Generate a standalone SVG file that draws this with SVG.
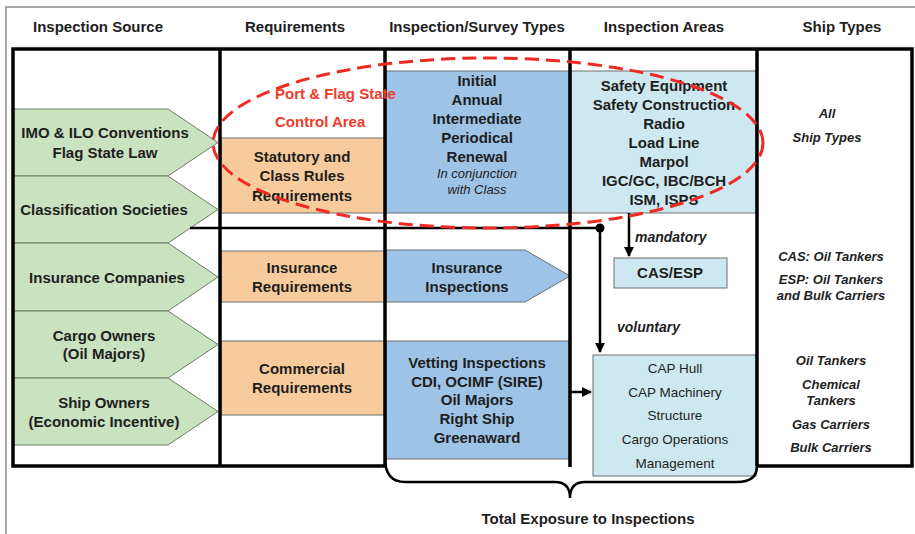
<svg xmlns="http://www.w3.org/2000/svg" width="915" height="534" viewBox="0 0 915 534">
  <style>
    text { font-family: "Liberation Sans", Arial, sans-serif; fill: #1e1e1e; text-anchor: middle; }
    .hd { font-size: 15px; font-weight: bold; }
    .b { font-size: 15px; font-weight: bold; }
    .it { font-size: 13px; font-weight: bold; font-style: italic; }
    .sm { font-size: 13.5px; }
    .red { font-size: 15px; font-weight: bold; fill: #ee3b2c; text-anchor: start; }
    .lbl { font-size: 14px; font-weight: bold; font-style: italic; text-anchor: start; }
    .src { fill: #c9e2bf; stroke: #6c7d66; stroke-width: 1; }
    .req { fill: #f8cb9c; stroke: #6e6e6e; stroke-width: 1; }
    .svy { fill: #9dc3e6; stroke: #6e6e6e; stroke-width: 1; }
    .area { fill: #cde8f0; stroke: #6e6e6e; stroke-width: 1; }
    .thick { stroke: #000; stroke-width: 3.5; fill: none; }
    .conn { stroke: #000; stroke-width: 2.5; fill: none; }
  </style>
  <defs>
    <marker id="arr" viewBox="0 0 10 10" refX="9" refY="5" markerWidth="4" markerHeight="4" orient="auto" markerUnits="strokeWidth">
      <path d="M0,0 L10,5 L0,10 z" fill="#000"/>
    </marker>
  </defs>

  <rect x="0" y="0" width="915" height="534" fill="#fff"/>
  <!-- outer page frame -->
  <path d="M6,534 L6,7 L915,7" fill="none" stroke="#8a8a8a" stroke-width="1.5"/>
  <line x1="13" y1="46" x2="912" y2="46" stroke="#e4e4e4" stroke-width="1"/>

  <!-- column headers -->
  <g id="headers">
    <text class="hd" x="98" y="32">Inspection Source</text>
    <text class="hd" x="295" y="32">Requirements</text>
    <text class="hd" x="477" y="32">Inspection/Survey Types</text>
    <text class="hd" x="664" y="32">Inspection Areas</text>
    <text class="hd" x="842" y="32">Ship Types</text>
  </g>

  <!-- inspection sources -->
  <g id="src-imo">
    <polygon class="src" points="13,109 168,109 218,142.5 168,176 13,176"/>
    <text class="b" x="105" y="138">IMO &amp; ILO Conventions</text>
    <text class="b" x="105" y="158">Flag State Law</text>
  </g>
  <g id="src-class">
    <polygon class="src" points="13,176 168,176 218,209.5 168,243 13,243"/>
    <text class="b" x="104" y="215">Classification Societies</text>
  </g>
  <g id="src-insurance">
    <polygon class="src" points="13,243 168,243 218,277 168,311 13,311"/>
    <text class="b" x="107" y="283">Insurance Companies</text>
  </g>
  <g id="src-cargo">
    <polygon class="src" points="13,311 168,311 218,344.5 168,378 13,378"/>
    <text class="b" x="104" y="341">Cargo Owners</text>
    <text class="b" x="104" y="359">(Oil Majors)</text>
  </g>
  <g id="src-shipowners">
    <polygon class="src" points="13,378 168,378 218,411.5 168,445 13,445"/>
    <text class="b" x="104" y="408">Ship Owners</text>
    <text class="b" x="104" y="427">(Economic Incentive)</text>
  </g>

  <!-- requirements -->
  <g id="req-statutory">
    <rect class="req" x="221" y="138" width="164" height="75"/>
    <text class="b" x="302" y="162">Statutory and</text>
    <text class="b" x="302" y="181">Class Rules</text>
    <text class="b" x="302" y="201">Requirements</text>
  </g>
  <g id="req-insurance">
    <rect class="req" x="221" y="251" width="164" height="51"/>
    <text class="b" x="302" y="273">Insurance</text>
    <text class="b" x="302" y="292">Requirements</text>
  </g>
  <g id="req-commercial">
    <rect class="req" x="221" y="341" width="164" height="74"/>
    <text class="b" x="302" y="374">Commercial</text>
    <text class="b" x="302" y="393">Requirements</text>
  </g>

  <!-- inspection / survey types -->
  <g id="svy-statutory">
    <rect class="svy" x="386" y="71" width="183" height="142"/>
    <text class="b" x="477" y="86">Initial</text>
    <text class="b" x="477" y="105">Annual</text>
    <text class="b" x="477" y="124">Intermediate</text>
    <text class="b" x="477" y="143">Periodical</text>
    <text class="b" x="477" y="162">Renewal</text>
    <text class="it" x="477" y="178" font-weight="normal" style="font-weight:normal">In conjunction</text>
    <text class="it" x="477" y="194" style="font-weight:normal">with Class</text>
  </g>
  <g id="svy-insurance">
    <polygon class="svy" points="386,250 525,250 570,276 525,302 386,302"/>
    <text class="b" x="467" y="273">Insurance</text>
    <text class="b" x="467" y="292">Inspections</text>
  </g>
  <g id="svy-vetting">
    <rect class="svy" x="386" y="341" width="183" height="118"/>
    <text class="b" x="477" y="368">Vetting Inspections</text>
    <text class="b" x="477" y="387">CDI, OCIMF (SIRE)</text>
    <text class="b" x="477" y="405">Oil Majors</text>
    <text class="b" x="477" y="424">Right Ship</text>
    <text class="b" x="477" y="443">Greenaward</text>
  </g>

  <!-- inspection areas -->
  <g id="area-statutory">
    <rect class="area" x="571" y="71" width="185" height="142"/>
    <text class="b" x="664" y="91">Safety Equipment</text>
    <text class="b" x="664" y="110">Safety Construction</text>
    <text class="b" x="664" y="129">Radio</text>
    <text class="b" x="664" y="148">Load Line</text>
    <text class="b" x="664" y="167">Marpol</text>
    <text class="b" x="664" y="186">IGC/GC, IBC/BCH</text>
    <text class="b" x="664" y="205">ISM, ISPS</text>
  </g>
  <g id="area-cas">
    <rect class="area" x="614" y="258" width="113" height="30" stroke="#4a4a4a" stroke-width="1.5"/>
    <text class="b" x="670" y="278">CAS/ESP</text>
  </g>
  <g id="area-cap">
    <rect class="area" x="593" y="355" width="163" height="121"/>
    <text class="sm" x="675" y="373">CAP Hull</text>
    <text class="sm" x="675" y="397">CAP Machinery</text>
    <text class="sm" x="675" y="420">Structure</text>
    <text class="sm" x="675" y="444">Cargo Operations</text>
    <text class="sm" x="675" y="468">Management</text>
  </g>

  <!-- ship types -->
  <g id="ships-all">
    <text class="it" x="827" y="118">All</text>
    <text class="it" x="827" y="142">Ship Types</text>
  </g>
  <g id="ships-cas">
    <text class="it" x="831" y="261">CAS: Oil Tankers</text>
    <text class="it" x="831" y="284">ESP: Oil Tankers</text>
    <text class="it" x="831" y="300">and Bulk Carriers</text>
  </g>
  <g id="ships-cap">
    <text class="it" x="831" y="365">Oil Tankers</text>
    <text class="it" x="831" y="389">Chemical</text>
    <text class="it" x="831" y="405">Tankers</text>
    <text class="it" x="831" y="429">Gas Carriers</text>
    <text class="it" x="831" y="452">Bulk Carriers</text>
  </g>

  <!-- table frame and column dividers -->
  <g id="frame">
    <path class="thick" d="M385,466 L13,466 L13,49 L912,49 L912,466 L757,466"/>
    <line class="thick" x1="220" y1="49" x2="220" y2="466"/>
    <line class="thick" x1="385" y1="49" x2="385" y2="466"/>
    <line class="thick" x1="570" y1="49" x2="570" y2="467"/>
    <line class="thick" x1="757" y1="49" x2="757" y2="466"/>
  </g>

  <!-- connectors -->
  <g id="connectors">
    <polyline class="conn" points="190,228 600,228 600,352" marker-end="url(#arr)"/>
    <circle cx="600" cy="228" r="4.5" fill="#000"/>
    <line class="conn" x1="629" y1="213" x2="629" y2="256" marker-end="url(#arr)"/>
    <line class="conn" x1="571" y1="392" x2="591" y2="392" marker-end="url(#arr)"/>
    <text class="lbl" x="635" y="242">mandatory</text>
    <text class="lbl" x="617" y="332">voluntary</text>
  </g>

  <!-- port and flag state control area -->
  <g id="psc-area">
    <ellipse cx="488" cy="143" rx="275" ry="85" fill="none" stroke="#ee2a22" stroke-width="3" stroke-dasharray="14 7"/>
    <text class="red" x="275" y="99">Port &amp; Flag State</text>
    <text class="red" x="275" y="127">Control Area</text>
  </g>

  <!-- total exposure brace -->
  <g id="total">
    <path class="conn" stroke-width="3" d="M385,458 Q385,482 405,482 L555,482 Q570,482 570,498 Q570,482 585,482 L737,482 Q757,482 757,466"/>
    <text class="b" x="588" y="524">Total Exposure to Inspections</text>
  </g>
</svg>
